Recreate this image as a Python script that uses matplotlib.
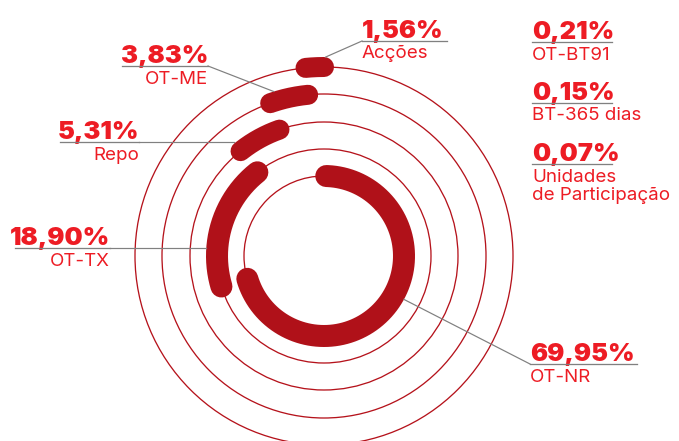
import numpy as np
import matplotlib.pyplot as plt
from matplotlib.patches import Circle

# portfolio composition, percent
names = ["Acções", "OT-ME", "Repo", "OT-TX", "OT-NR"]
shares = [1.56, 3.83, 5.31, 18.90, 69.95]
small_names = ["OT-BT91", "BT-365 dias", "Unidades\nde Participação"]
small_shares = [0.21, 0.15, 0.07]

W, H = 679, 441
cx, cy = 324, 256
radii = [189, 162, 134, 107, 80]      # one ring per series, outer to inner
widths = [20, 20, 20, 22, 22]         # arc thickness in px

ARC = "#b01119"
RING = "#b5121b"
TXT = "#ed1c24"
GREY = "#808080"

fig = plt.figure(figsize=(W / 100, H / 100), dpi=100)
ax = fig.add_axes([0, 0, 1, 1])
ax.set_xlim(0, W)
ax.set_ylim(H, 0)
ax.axis("off")

def pt(px):
    return px * 72 / 100

def xy(r, deg):
    a = np.radians(deg)
    return cx + r * np.cos(a), cy - r * np.sin(a)

# thin rings
for r in radii:
    ax.add_patch(Circle((cx, cy), r, fill=False, ec=RING, lw=pt(1.3), zorder=1))

# stacked arcs, counter-clockwise from 12 o'clock
start = 90.0
for name, s, r, w in zip(names, shares, radii, widths):
    sweep = s * 3.6
    th = np.linspace(start, start + sweep, 200)
    x, y = xy(r, th)
    ax.plot(x, y, color=ARC, lw=pt(w), solid_capstyle="round", zorder=2)
    start += sweep

def pct(v):
    return f"{v:.2f}".replace(".", ",") + "%"

big = dict(family="Inter", fontweight="black", fontsize=18.3, color=TXT)
small = dict(family="Inter", fontsize=13.5, color=TXT)

def label(v, name, x0, x1, yl, ha, pts):
    tx = x1 if ha == "right" else x0
    ax.text(tx, yl - 3, pct(v), ha=ha, va="baseline", **big)
    ax.text(tx, yl + 17.5, name, ha=ha, va="baseline", **small)
    ax.plot([x0, x1], [yl, yl], color=GREY, lw=pt(1.3), zorder=3)
    if pts:
        px = [p[0] for p in pts]
        py = [p[1] for p in pts]
        ax.plot(px, py, color=GREY, lw=pt(1.2), zorder=3)

# leader-line anchors on the arcs' outer edges
a_acc = xy(radii[0] + 10, 89.5)
a_me = xy(radii[1] + 10, 107)
a_rep = xy(radii[2] + 10, 128.5)
a_tx = xy(radii[3] + 11, 177)
a_nr = xy(radii[4] + 11, -28.5)

label(shares[0], names[0], 362, 447, 41, "left", [a_acc, (362, 41)])
label(shares[1], names[1], 122, 208, 66, "right", [(208, 66), a_me])
label(shares[2], names[2], 60, 139, 142, "right", [(139, 142), (a_rep[0], 142)])
label(shares[3], names[3], 15, 110, 248, "right", [(110, 248), (a_tx[0], 248)])
label(shares[4], names[4], 530, 637, 364, "left", [(530, 364), a_nr])

for v, n, yl in zip(small_shares, small_names, [42, 103, 164]):
    first, *rest = n.split("\n")
    label(v, first, 532, 612, yl, "left", None)
    for i, line in enumerate(rest):
        ax.text(532, yl + 35.5 + 18 * i, line, ha="left", va="baseline", **small)

fig.savefig("out.png", dpi=100)
